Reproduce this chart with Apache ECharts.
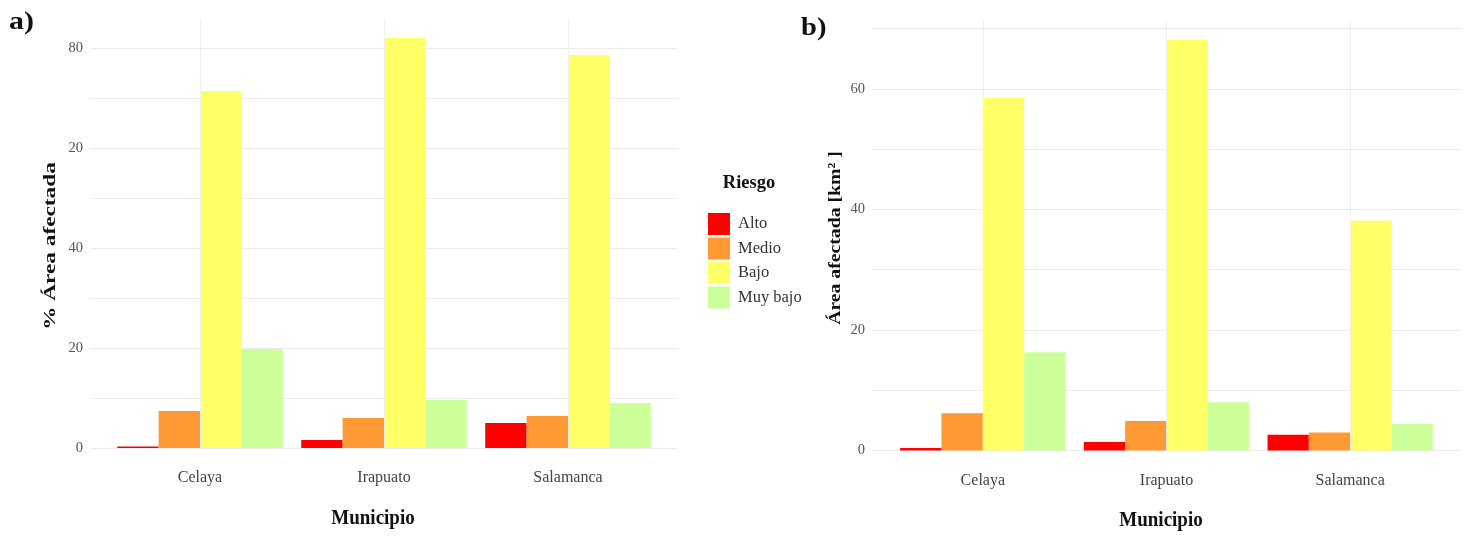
<!DOCTYPE html>
<html>
<head>
<meta charset="utf-8">
<script src="https://cdn.jsdelivr.net/npm/echarts@6/dist/echarts.min.js"></script>
<style>
  html, body { margin: 0; padding: 0; background: #ffffff; }
  #chart { width: 1468px; height: 544px; }
</style>
</head>
<body>
<div id="chart"></div>
<script>
// Municipalities and risk classes
const categories = ['Celaya', 'Irapuato', 'Salamanca'];
const riesgo = ['Alto', 'Medio', 'Bajo', 'Muy bajo'];

// a) % of area affected per risk class
const pctAlto = [0.3, 1.6, 5.0];
const pctMedio = [7.4, 6.0, 6.4];
const pctBajo = [71.4, 82.0, 78.6];
const pctMuyBajo = [19.8, 9.6, 9.0];

// b) affected area in km²
const kmAlto = [0.4, 1.4, 2.6];
const kmMedio = [6.2, 4.9, 3.0];
const kmBajo = [58.5, 68.1, 38.1];
const kmMuyBajo = [16.3, 8.0, 4.4];

// tick labels as printed on each panel
const ticksA = ['0', '20', '40', '20', '80'];
const ticksB = ['0', '20', '40', '60'];

const colores = ['#ff0000', '#ff9933', '#ffff66', '#ccff99'];
const serif = 'Liberation Serif';
const gridColor = '#ebebeb';

const chart = echarts.init(document.getElementById('chart'), null, { renderer: 'canvas' });

// each panel = a wide grid (horizontal gridlines + y labels, up to the last labelled line)
// and a narrower grid holding the bars over the full value range
const panelA = { wideLeft: 90, wideRight: 678, barLeft: 108, barRight: 660, top: 18, zero: 448, max: 86, lineMax: 80 };
const panelB = { wideLeft: 872, wideRight: 1460, barLeft: 891, barRight: 1442, top: 19.5, zero: 450.5, max: 71.5, lineMax: 70 };

function grids(p) {
  const pxPerUnit = (p.zero - p.top) / p.max;
  const wideTop = p.zero - p.lineMax * pxPerUnit;
  return [
    { left: p.wideLeft, top: wideTop, width: p.wideRight - p.wideLeft, height: p.zero - wideTop },
    { left: p.barLeft, top: p.top, width: p.barRight - p.barLeft, height: p.zero - p.top }
  ];
}

function yAxes(p, gi, ticks) {
  return [
    {
      gridIndex: gi, type: 'value', min: 0, max: p.lineMax, interval: 10,
      axisLine: { show: false }, axisTick: { show: false },
      splitLine: { show: true, lineStyle: { color: gridColor, width: 1 } },
      axisLabel: {
        margin: 7, fontFamily: serif, fontSize: 14.5, color: '#555555',
        formatter: v => (v % 20 === 0 && ticks[v / 20] !== undefined) ? ticks[v / 20] : ''
      }
    },
    { gridIndex: gi + 1, type: 'value', min: 0, max: p.max, show: false }
  ];
}

function xAxes(gi) {
  return [
    { gridIndex: gi, type: 'category', data: [], show: false },
    {
      gridIndex: gi + 1, type: 'category', data: categories,
      axisLine: { show: false }, axisTick: { show: false },
      axisLabel: { margin: 22, fontFamily: serif, fontSize: 16, color: '#444444' }
    }
  ];
}

function panelSeries(axisIdx, valores) {
  const list = [{
    // vertical gridlines at each municipality
    type: 'line', data: [], xAxisIndex: axisIdx, yAxisIndex: axisIdx, z: 0, silent: true,
    markLine: {
      silent: true, symbol: 'none', label: { show: false },
      lineStyle: { color: '#efefef', width: 1, type: 'solid' },
      data: categories.map(c => ({ xAxis: c }))
    }
  }];
  riesgo.forEach((name, i) => {
    list.push({
      name: name, type: 'bar', data: valores[i],
      xAxisIndex: axisIdx, yAxisIndex: axisIdx, z: 2,
      barGap: '0%', barCategoryGap: '10%',
      itemStyle: { color: colores[i] }
    });
  });
  return list;
}

const titleFont = { fontFamily: serif, fontWeight: 'bold', fill: '#111111' };

chart.setOption({
  animation: false,
  backgroundColor: '#ffffff',
  grid: [...grids(panelA), ...grids(panelB)],
  xAxis: [...xAxes(0), ...xAxes(2)],
  yAxis: [...yAxes(panelA, 0, ticksA), ...yAxes(panelB, 2, ticksB)],
  legend: {
    data: riesgo, orient: 'vertical', left: 703, top: 208,
    icon: 'rect', itemWidth: 22, itemHeight: 22, itemGap: 2.5,
    textStyle: { fontFamily: serif, fontSize: 16.5, color: '#333333', padding: [0, 0, 0, 3] }
  },
  series: [
    ...panelSeries(1, [pctAlto, pctMedio, pctBajo, pctMuyBajo]),
    ...panelSeries(3, [kmAlto, kmMedio, kmBajo, kmMuyBajo])
  ],
  graphic: [
    { type: 'text', x: 9, y: 22, scaleX: 1.15, style: Object.assign({ text: 'a)', fontSize: 26, verticalAlign: 'middle' }, titleFont) },
    { type: 'text', x: 801, y: 28, scaleX: 1.1, style: Object.assign({ text: 'b)', fontSize: 26, verticalAlign: 'middle' }, titleFont) },
    { type: 'text', x: 373, y: 519, scaleY: 1.1, style: Object.assign({ text: 'Municipio', fontSize: 19, align: 'center', verticalAlign: 'middle' }, titleFont) },
    { type: 'text', x: 1161, y: 521, scaleY: 1.1, style: Object.assign({ text: 'Municipio', fontSize: 19, align: 'center', verticalAlign: 'middle' }, titleFont) },
    { type: 'text', x: 51, y: 246, rotation: Math.PI / 2, scaleX: 1.37, style: Object.assign({ text: '% Área afectada', fontSize: 17, align: 'center', verticalAlign: 'middle' }, titleFont) },
    { type: 'text', x: 836, y: 238, rotation: Math.PI / 2, scaleX: 1.16, style: Object.assign({ text: 'Área afectada [km² ]', fontSize: 17, align: 'center', verticalAlign: 'middle' }, titleFont) },
    { type: 'text', x: 749, y: 183, style: Object.assign({ text: 'Riesgo', fontSize: 18.5, align: 'center', verticalAlign: 'middle' }, titleFont) }
  ]
});
</script>
</body>
</html>
